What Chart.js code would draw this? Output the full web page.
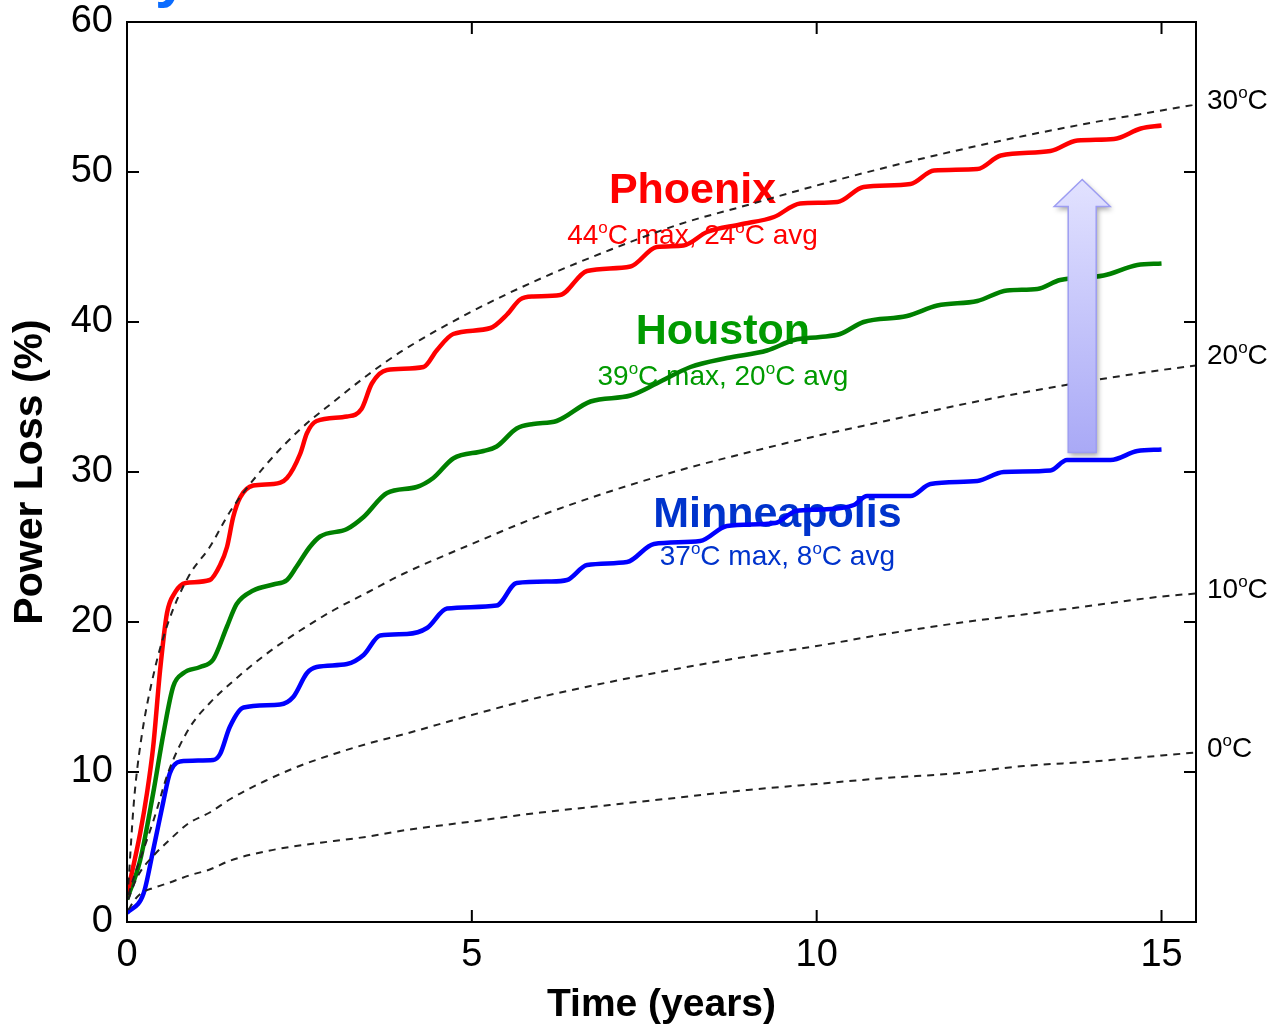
<!DOCTYPE html>
<html>
<head>
<meta charset="utf-8">
<script src="https://cdn.jsdelivr.net/npm/chart.js@4.4.1/dist/chart.umd.min.js"></script>
<style>
  body { margin: 0; background: #fff; }
  canvas { display: block; }
</style>
</head>
<body>
<canvas id="chart" width="1276" height="1028"></canvas>
<script>
// time (years) and power loss (%)
const phoenixT = [0, 0.19, 0.29, 0.38, 0.48, 0.58, 0.7, 0.77, 0.85, 1.2, 1.35, 1.45, 1.54, 1.64, 1.83, 2.12, 2.32, 2.51, 2.61, 2.75, 3.19, 3.4, 3.55, 3.77, 4.3, 4.49, 4.73, 5.27, 5.51, 5.7, 5.89, 6.28, 6.67, 7.3, 7.68, 8.07, 8.41, 8.89, 9.38, 9.76, 10.3, 10.68, 11.36, 11.7, 12.33, 12.67, 13.39, 13.78, 14.31, 14.7, 15];
const phoenixV = [1.8, 5.9, 8.6, 11.7, 16.8, 20.6, 22, 22.4, 22.6, 22.8, 23.8, 25, 27, 28.3, 29.1, 29.2, 29.6, 31.2, 32.6, 33.4, 33.7, 34.2, 35.9, 36.8, 37.0, 38.1, 39.2, 39.6, 40.5, 41.5, 41.7, 41.8, 43.4, 43.7, 45, 45.1, 46, 46.5, 47, 47.9, 48.0, 49, 49.2, 50.1, 50.2, 51.1, 51.4, 52.1, 52.2, 52.9, 53.1];

const houstonT = [0, 0.19, 0.38, 0.53, 0.67, 0.82, 1.06, 1.25, 1.45, 1.59, 1.83, 2.12, 2.32, 2.46, 2.65, 2.8, 3.19, 3.43, 3.77, 4.2, 4.44, 4.73, 5.17, 5.36, 5.65, 5.89, 6.23, 6.72, 7.3, 7.68, 8.17, 8.7, 9.28, 9.67, 10.05, 10.34, 10.68, 11.31, 11.75, 12.33, 12.76, 13.2, 13.53, 14.16, 14.65, 15];
const houstonV = [1.5, 4.1, 8.6, 12.6, 15.7, 16.6, 17.0, 17.5, 19.7, 21.2, 22.1, 22.5, 22.8, 23.7, 25, 25.7, 26.2, 27.0, 28.6, 29.0, 29.6, 30.9, 31.4, 31.7, 32.9, 33.2, 33.4, 34.7, 35.1, 35.9, 37.0, 37.6, 38.1, 38.8, 39.0, 39.2, 40.0, 40.4, 41.1, 41.4, 42.1, 42.2, 42.8, 43.1, 43.8, 43.9];

const minneapolisT = [0, 0.24, 0.38, 0.53, 0.62, 0.77, 1.25, 1.35, 1.49, 1.69, 2.22, 2.41, 2.61, 2.75, 3.19, 3.43, 3.67, 4.06, 4.35, 4.64, 5.36, 5.65, 6.14, 6.38, 6.67, 7.25, 7.64, 8.31, 8.7, 9.4, 9.7, 10.05, 10.54, 10.73, 11.36, 11.65, 12.33, 12.71, 13.39, 13.63, 14.26, 14.65, 15];
const minneapolisV = [0.6, 1.9, 4.8, 8.1, 9.9, 10.7, 10.8, 11.2, 13.0, 14.3, 14.5, 15.0, 16.6, 17.0, 17.2, 17.8, 19.1, 19.2, 19.6, 20.9, 21.1, 22.6, 22.7, 22.8, 23.8, 24.0, 25.2, 25.4, 26.4, 26.6, 27.4, 27.5, 27.8, 28.4, 28.4, 29.2, 29.4, 30.0, 30.1, 30.8, 30.8, 31.4, 31.5];

// constant-temperature reference curves (dashed)
const isoT = [0.02, 0.1, 0.2, 0.4, 0.6, 0.9, 1.2, 1.5, 2, 2.5, 3, 3.5, 4, 5, 6, 7, 8, 9, 10, 11, 12, 13, 14, 15, 15.5];
const iso30 = [2.5, 8, 12, 16.8, 20, 23.1, 25, 27.4, 30.4, 32.8, 34.7, 36.5, 38.1, 40.7, 42.9, 44.8, 46.5, 47.8, 49.1, 50.3, 51.4, 52.4, 53.3, 54.1, 54.5];
const iso20 = [1.8, 3, 4.3, 7, 10, 12.9, 14.6, 15.9, 17.8, 19.4, 20.8, 22, 23.2, 25.2, 27.1, 28.7, 30.1, 31.3, 32.4, 33.4, 34.4, 35.3, 36.1, 36.8, 37.1];
const iso10 = [1.5, 2.5, 3.4, 4.5, 5.4, 6.6, 7.3, 8.2, 9.4, 10.4, 11.2, 11.9, 12.5, 13.8, 15, 16, 16.9, 17.7, 18.4, 19.2, 19.9, 20.5, 21.1, 21.7, 21.9];
const iso0 = [0.8, 1.4, 1.9, 2.3, 2.6, 3.1, 3.5, 4.1, 4.7, 5.1, 5.4, 5.7, 6.1, 6.7, 7.3, 7.8, 8.3, 8.8, 9.2, 9.6, 9.9, 10.4, 10.7, 11.1, 11.3];
const isoLabels = ["30^oC", "20^oC", "10^oC", "0^oC"];
const isoLabelAt = [54.7, 37.7, 22.1, 11.5];

const xTicks = [0, 5, 10, 15];
const yTicks = [0, 10, 20, 30, 40, 50, 60];

// city labels
const cityNames = ["Phoenix", "Houston", "Minneapolis"];
const citySubs = ["44^oC max, 24^oC avg", "39^oC max, 20^oC avg", "37^oC max, 8^oC avg"];
const cityTextColors = ["#ff0000", "#009a00", "#0033cc"];
const cityAtT = [8.2, 8.64, 9.43];
const cityAtV = [48.7, 39.3, 27.1];
const citySubAtV = [45.7, 36.3, 24.3];

const arrowAtT = 13.85;
const arrowFromV = 31.3;
const arrowToV = 49.5;

const FONT = "'Liberation Sans', Arial, Helvetica, sans-serif";

function pts(ts, vs) {
    return ts.map((t, i) => ({ x: t, y: vs[i] }));
}

function dashed(data) {
    return {
        data: pts(isoT, data),
        borderColor: "#222",
        borderWidth: 2,
        borderDash: [7, 6],
        pointRadius: 0,
        cubicInterpolationMode: "monotone",
        fill: false
    };
}

function solid(ts, vs, color) {
    return {
        data: pts(ts, vs),
        borderColor: color,
        borderWidth: 4.5,
        pointRadius: 0,
        cubicInterpolationMode: "monotone",
        fill: false
    };
}

// text with small raised "o" for the degree sign
function drawSup(ctx, str, x, y, size, weight, color, align) {
    let parts = str.split("^o");
    let big = `${weight} ${size}px ${FONT}`;
    let small = `${weight} ${Math.round(size * 0.62)}px ${FONT}`;
    let w = 0;
    parts.forEach((p, i) => {
        ctx.font = big;
        w += ctx.measureText(p).width;
        if (i < parts.length - 1) {
            ctx.font = small;
            w += ctx.measureText("o").width;
        }
    });
    let cx = align === "left" ? x : x - w / 2;
    ctx.fillStyle = color;
    ctx.textAlign = "left";
    ctx.textBaseline = "middle";
    parts.forEach((p, i) => {
        ctx.font = big;
        ctx.fillText(p, cx, y);
        cx += ctx.measureText(p).width;
        if (i < parts.length - 1) {
            ctx.font = small;
            ctx.fillText("o", cx, y - size * 0.3);
            cx += ctx.measureText("o").width;
        }
    });
}

const decor = {
    id: "decor",
    beforeDatasetsDraw(chart) {
        const ctx = chart.ctx;
        const x = chart.scales.x, y = chart.scales.y;
        ctx.save();
        cityNames.forEach((name, i) => {
            let px = x.getPixelForValue(cityAtT[i]);
            ctx.font = `bold 43px ${FONT}`;
            ctx.fillStyle = cityTextColors[i];
            ctx.textAlign = "center";
            ctx.textBaseline = "middle";
            ctx.fillText(name, px, y.getPixelForValue(cityAtV[i]));
            drawSup(ctx, citySubs[i], px, y.getPixelForValue(citySubAtV[i]), 28, "normal", cityTextColors[i], "center");
        });
        ctx.restore();
    },
    afterDatasetsDraw(chart) {
        const ctx = chart.ctx;
        const x = chart.scales.x, y = chart.scales.y;
        const cx = x.getPixelForValue(arrowAtT);
        const yb = y.getPixelForValue(arrowFromV);
        const yt = y.getPixelForValue(arrowToV);
        const yh = yt + 27;
        ctx.save();
        ctx.beginPath();
        ctx.moveTo(cx - 14, yb);
        ctx.lineTo(cx - 14, yh);
        ctx.lineTo(cx - 28, yh);
        ctx.lineTo(cx, yt);
        ctx.lineTo(cx + 28, yh);
        ctx.lineTo(cx + 14, yh);
        ctx.lineTo(cx + 14, yb);
        ctx.closePath();
        let g = ctx.createLinearGradient(0, yt, 0, yb);
        g.addColorStop(0, "#e2e2ff");
        g.addColorStop(1, "#a9a9f6");
        ctx.shadowColor = "rgba(0,0,0,0.35)";
        ctx.shadowBlur = 5;
        ctx.shadowOffsetX = 2;
        ctx.shadowOffsetY = 3;
        ctx.fillStyle = g;
        ctx.fill();
        ctx.shadowColor = "transparent";
        ctx.strokeStyle = "#9d9df2";
        ctx.lineWidth = 1.5;
        ctx.stroke();
        ctx.restore();
    },
    afterDraw(chart) {
        const ctx = chart.ctx;
        const a = chart.chartArea;
        const x = chart.scales.x, y = chart.scales.y;
        ctx.save();
        ctx.strokeStyle = "#000";
        ctx.lineWidth = 2;
        ctx.strokeRect(a.left, a.top, a.right - a.left, a.bottom - a.top);
        ctx.beginPath();
        xTicks.forEach(t => {
            let px = x.getPixelForValue(t);
            ctx.moveTo(px, a.bottom); ctx.lineTo(px, a.bottom - 12);
            ctx.moveTo(px, a.top); ctx.lineTo(px, a.top + 12);
        });
        yTicks.forEach(v => {
            let py = y.getPixelForValue(v);
            ctx.moveTo(a.left, py); ctx.lineTo(a.left + 12, py);
            ctx.moveTo(a.right, py); ctx.lineTo(a.right - 12, py);
        });
        ctx.stroke();
        isoLabels.forEach((lab, i) => {
            drawSup(ctx, lab, a.right + 11, y.getPixelForValue(isoLabelAt[i]), 28, "normal", "#000", "left");
        });
        // clipped slide title above the chart
        ctx.font = `bold 60px ${FONT}`;
        ctx.fillStyle = "#0b6cff";
        ctx.textAlign = "left";
        ctx.textBaseline = "alphabetic";
        ctx.fillText("y", 155, -4);
        ctx.restore();
    }
};

new Chart(document.getElementById("chart"), {
    type: "line",
    data: {
        datasets: [
            dashed(iso30),
            dashed(iso20),
            dashed(iso10),
            dashed(iso0),
            solid(phoenixT, phoenixV, "#ff0000"),
            solid(houstonT, houstonV, "#008000"),
            solid(minneapolisT, minneapolisV, "#0000ff")
        ]
    },
    options: {
        responsive: false,
        animation: false,
        devicePixelRatio: 1,
        layout: { padding: { left: 0, top: 22, right: 80, bottom: 0 } },
        plugins: { legend: { display: false }, tooltip: { enabled: false } },
        scales: {
            x: {
                type: "linear",
                min: 0,
                max: 15.5,
                afterBuildTicks: s => { s.ticks = xTicks.map(v => ({ value: v })); },
                afterFit: s => { s.height = 106; s.paddingLeft = 0; s.paddingRight = 0; },
                grid: { display: false, drawTicks: false },
                border: { display: false },
                ticks: {
                    color: "#000",
                    padding: 15,
                    maxRotation: 0,
                    font: { family: FONT, size: 38, lineHeight: 1 }
                },
                title: {
                    display: true,
                    text: "Time (years)",
                    color: "#000",
                    padding: { top: 0, bottom: 3 },
                    font: { family: FONT, size: 39, weight: "bold", lineHeight: 1 }
                }
            },
            y: {
                type: "linear",
                min: 0,
                max: 60,
                afterBuildTicks: s => { s.ticks = yTicks.map(v => ({ value: v })); },
                afterFit: s => { s.width = 127; s.paddingTop = 0; s.paddingBottom = 0; },
                grid: { display: false, drawTicks: false },
                border: { display: false },
                ticks: {
                    color: "#000",
                    padding: 14,
                    font: { family: FONT, size: 38, lineHeight: 1 }
                },
                title: {
                    display: true,
                    text: "Power Loss (%)",
                    color: "#000",
                    padding: { top: 10, bottom: 0 },
                    font: { family: FONT, size: 41, weight: "bold", lineHeight: 1 }
                }
            }
        }
    },
    plugins: [decor]
});
</script>
</body>
</html>
